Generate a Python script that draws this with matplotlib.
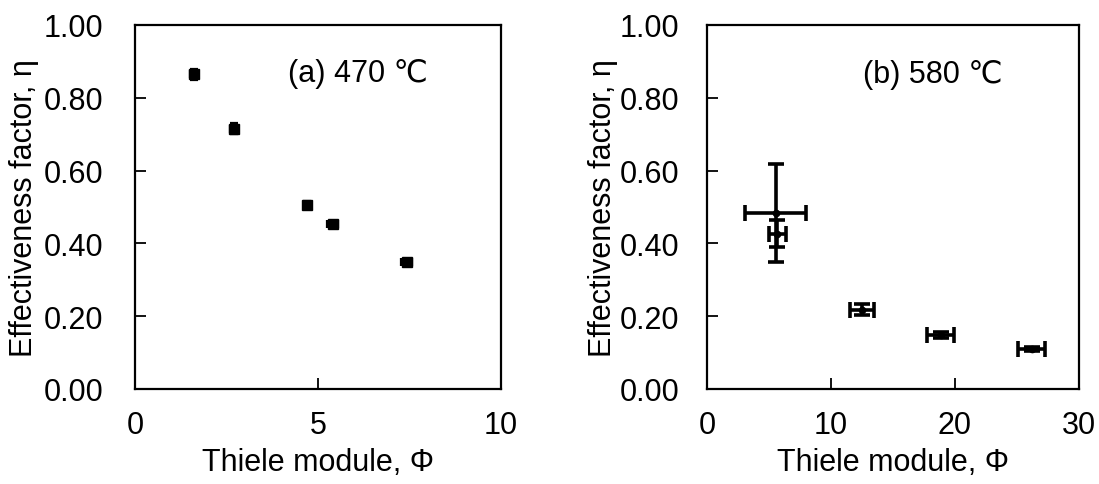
import matplotlib
matplotlib.use("Agg")
import matplotlib.pyplot as plt

plt.rcParams['font.family'] = ['Liberation Sans', 'DejaVu Sans']

# (a) 470 °C
phi_a = [1.60, 2.71, 4.69, 5.40, 7.42]
eta_a = [0.865, 0.715, 0.506, 0.452, 0.348]
phi_a_err = [0.10, 0.10, 0.08, 0.15, 0.15]
eta_a_err = [0.015, 0.015, 0.010, 0.010, 0.008]

# (b) 580 °C
phi_b = [5.54, 5.67, 12.47, 18.84, 26.20]
eta_b = [0.484, 0.427, 0.218, 0.149, 0.110]
phi_b_err = [2.45, 0.67, 0.97, 1.07, 1.09]
eta_b_err = [0.135, 0.038, 0.016, 0.008, 0.005]

yticks = [0.0, 0.2, 0.4, 0.6, 0.8, 1.0]
xticks_a = [0, 5, 10]
xticks_b = [0, 10, 20, 30]

fig = plt.figure(figsize=(10.99, 4.85), dpi=100)
ax_a = fig.add_axes([0.1228, 0.1959, 0.3330, 0.7505])
ax_b = fig.add_axes([0.6433, 0.1959, 0.3385, 0.7505])

FS = 22


def style(ax, xlim, xticks, ypad, ylabelpad):
    ax.set_xlim(*xlim)
    ax.set_ylim(0, 1.0)
    ax.set_xticks(xticks)
    ax.set_yticks(yticks)
    ax.set_yticklabels([f"{v:.2f}" for v in yticks])
    ax.tick_params(axis='both', direction='in', length=8, width=1.3,
                   labelsize=FS, top=False, right=False)
    ax.tick_params(axis='x', pad=15)
    ax.tick_params(axis='y', pad=ypad)
    for s in ax.spines.values():
        s.set_linewidth(1.6)
    ax.set_xlabel("Thiele module, Φ", fontsize=FS, labelpad=5)
    ax.set_ylabel("Effectiveness factor, η", fontsize=FS, labelpad=ylabelpad)


ax_a.errorbar(phi_a, eta_a, xerr=phi_a_err, yerr=eta_a_err, fmt='s',
              color='black', ms=7, elinewidth=1.6, capsize=3, capthick=1.6)
ax_b.errorbar(phi_b, eta_b, xerr=phi_b_err, yerr=eta_b_err, fmt='o',
              color='black', ms=4.5, elinewidth=2.6, capsize=5.5, capthick=2.6)

style(ax_a, (0, 10), xticks_a, 23, 3)
style(ax_b, (0, 30), xticks_b, 20, 1)

ax_a.text(4.18, 0.868, "(a) 470 ℃", fontsize=FS, va='center', ha='left')
ax_b.text(12.6, 0.865, "(b) 580 ℃", fontsize=FS, va='center', ha='left')

fig.savefig("out.png", dpi=100)
